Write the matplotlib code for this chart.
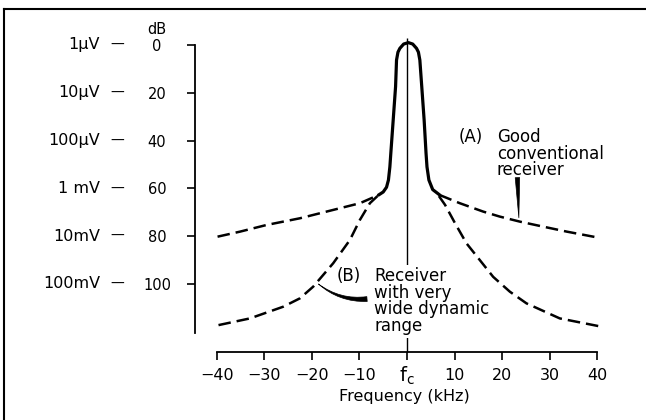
import matplotlib
matplotlib.use('Agg')
import matplotlib.pyplot as plt
from matplotlib.lines import Line2D
import matplotlib.transforms as mtransforms

plt.rcParams['font.family'] = ['DejaVu Sans']

# ---------------- data ----------------
freq_ticks = [-40, -30, -20, -10, 0, 10, 20, 30, 40]
freq_tick_labels = ['\u221240', '\u221230', '\u221220', '\u221210', 'f$_{\\rm c}$', '10', '20', '30', '40']
db_ticks = [0, 20, 40, 60, 80, 100]
db_tick_labels = ['0', '20', '40', '60', '80', '100']
voltage_labels = ['1\u03bcV', '10\u03bcV', '100\u03bcV', '1 mV', '10mV', '100mV']

# solid passband peak
peak_f = [-6.0, -5.0, -4.3, -3.9, -3.6, -3.4, -2.9, -2.4, -2.2, -1.9, -1.5, -0.7, 0.3, 1.2, 2.0, 2.4, 2.7, 3.1, 3.6, 4.0, 4.2, 4.6, 5.4, 6.9]
peak_db = [62.8, 61.5, 59.5, 56.5, 51.0, 45.3, 31.4, 17.4, 6.3, 3.0, 1.4, -0.4, -1.0, -0.4, 1.4, 3.0, 6.3, 17.4, 31.4, 45.3, 51.0, 56.5, 60.5, 62.8]

# (A) good conventional receiver skirts
a_left_f = [-39.8, -35.1, -29.5, -22.5, -15.5, -9.9, -6.0]
a_left_db = [80.2, 78.1, 75.3, 72.5, 69.0, 66.2, 62.8]
a_right_f = [6.9, 11.1, 16.0, 19.5, 23.7, 28.6, 33.6, 40.2]
a_right_db = [62.8, 66.2, 69.7, 71.8, 73.9, 76.0, 78.1, 80.6]

# (B) wide dynamic range receiver skirts
b_left_f = [-39.6, -33.0, -26.0, -22.5, -19.7, -15.5, -12.0, -9.9, -7.8, -6.2]
b_left_db = [117.2, 114.4, 109.5, 106.0, 101.1, 91.3, 81.6, 73.2, 66.2, 63.2]
b_right_f = [6.7, 8.0, 10.1, 12.5, 15.3, 18.1, 21.6, 25.1, 32.1, 40.2]
b_right_db = [63.2, 66.9, 74.6, 83.0, 90.0, 97.0, 103.2, 108.1, 114.4, 117.6]

center_f = 0
center_top_db = -3

# ---------------- figure ----------------
W, H = 646, 420
fig = plt.figure(figsize=(W / 100, H / 100), dpi=100)
ax = fig.add_axes([0, 0, 1, 1])

# pixel mapping helpers (layout only)
x0_px, px_per_khz = 407.0, 4.76
y0_px, px_per_db = 45.0, 2.39
ax.set_xlim((0 - x0_px) / px_per_khz, (W - x0_px) / px_per_khz)
ax.set_ylim((H - y0_px) / px_per_db, (0 - y0_px) / px_per_db)

yspine_f = (195 - x0_px) / px_per_khz
xspine_db = (352 - y0_px) / px_per_db
ybottom_db = (333 - y0_px) / px_per_db

for s in ['top', 'right']:
    ax.spines[s].set_visible(False)
ax.spines['left'].set_position(('data', yspine_f))
ax.spines['left'].set_bounds(0, ybottom_db)
ax.spines['bottom'].set_position(('data', xspine_db))
ax.spines['bottom'].set_bounds(-40, 40)
for s in ['left', 'bottom']:
    ax.spines[s].set_linewidth(1.3)

# x ticks: the centre-frequency label is drawn separately (larger, with subscript)
ax.set_xticks(freq_ticks)
ax.set_xticklabels(['' if 'f$' in t else t for t in freq_tick_labels])
ax.set_yticks(db_ticks)
ax.set_yticklabels(db_tick_labels)
ax.tick_params(axis='x', direction='out', length=5.8, width=1.2, pad=6, labelsize=11.5)
ax.tick_params(axis='y', direction='out', length=5.8, width=1.2, pad=21.5, labelsize=10.5)
for lab in ax.get_yticklabels():
    lab.set_ha('center')

blend_x = mtransforms.blended_transform_factory(ax.transData, ax.transAxes)
for t, f in zip(freq_tick_labels, freq_ticks):
    if 'f$' in t:
        ax.text(f, 1 - 381.5 / H, t, transform=blend_x, ha='center', va='baseline', fontsize=14)

# axis title for dB
ax.text(157 / W, 1 - 29 / H, 'dB', transform=ax.transAxes, ha='center', va='center', fontsize=10.5)

# voltage labels and dashes
blend = mtransforms.blended_transform_factory(ax.transAxes, ax.transData)
for v, d in zip(voltage_labels, db_ticks):
    ax.text(100 / W, d, v, transform=blend, ha='right', va='center', fontsize=11.5)
    ax.text(117 / W, d, '\u2014', transform=blend, ha='center', va='center', fontsize=10)

# x label
ax.text(404 / W, 1 - 397 / H, 'Frequency (kHz)', transform=ax.transAxes, ha='center', va='center', fontsize=11.5)

# centre line
ax.vlines(center_f, center_top_db, xspine_db, colors='k', linewidth=1.0, zorder=1)

# curves
dash = (5.0, 2.4)
ax.plot(peak_f, peak_db, color='k', linewidth=2.3, solid_capstyle='round', solid_joinstyle='round', zorder=4)
for fx, dy in [(a_left_f, a_left_db), (a_right_f, a_right_db), (b_left_f, b_left_db), (b_right_f, b_right_db)]:
    ax.plot(fx, dy, color='k', linewidth=1.8, dashes=dash, dash_capstyle='butt', zorder=3)

# annotations (A)
ax.text(10.9, 34.8, '(A)', ha='left', va='top', fontsize=12)
ax.text(18.9, 34.8, 'Good\nconventional\nreceiver', ha='left', va='top', fontsize=12, linespacing=0.9)
ax.annotate('', xy=(23.5, 72.3), xytext=(23.2, 55.5),
            arrowprops=dict(arrowstyle='wedge,tail_width=0.32', fc='k', ec='k', lw=0.5,
                            shrinkA=0, shrinkB=0, mutation_scale=10), zorder=5)

# annotations (B)
ax.text(-14.8, 93.0, '(B)', ha='left', va='top', fontsize=12)
ax.text(-6.9, 93.0, 'Receiver\nwith very\nwide dynamic\nrange', ha='left', va='top', fontsize=12,
        linespacing=0.9, zorder=2,
        bbox=dict(boxstyle='square,pad=0.15', fc='white', ec='none'))
ax.annotate('', xy=(-18.6, 100.0), xytext=(-8.4, 106.3),
            arrowprops=dict(arrowstyle='wedge,tail_width=0.35', fc='k', ec='k', lw=0.5,
                            connectionstyle='arc3,rad=-0.2',
                            shrinkA=0, shrinkB=0, mutation_scale=10), zorder=5)

# outer frame (top and left only)
fig.add_artist(Line2D([3.5 / W, 1], [1 - 9 / H, 1 - 9 / H], transform=fig.transFigure, color='k', lw=1.5))
fig.add_artist(Line2D([3.5 / W, 3.5 / W], [0, 1 - 9 / H], transform=fig.transFigure, color='k', lw=1.5))

fig.savefig('out.png', dpi=100, facecolor='white')
